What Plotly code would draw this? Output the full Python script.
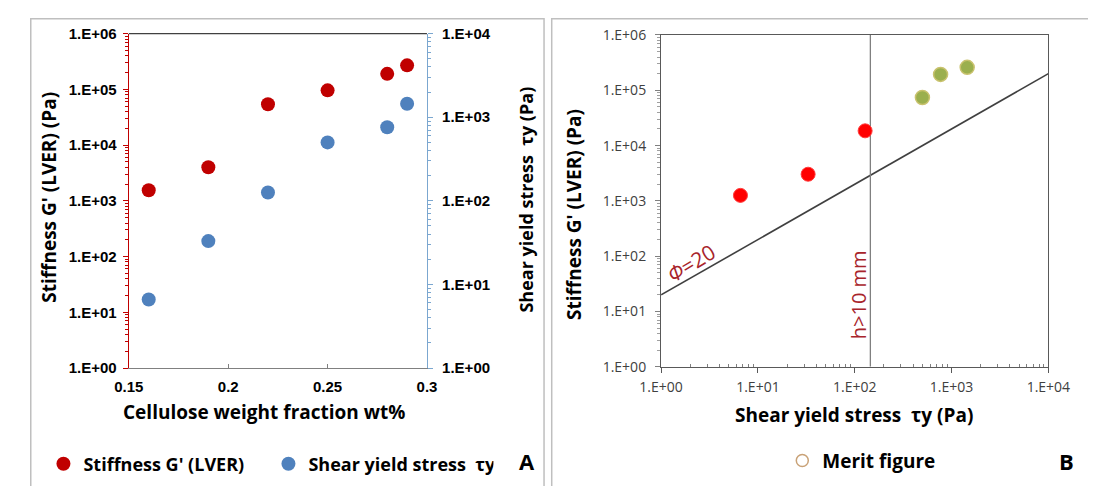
import plotly.graph_objects as go

# The page shows the figure with an 8 px body margin, so the figure is sized to
# the visible area and all layout positions below are given in page pixels.
OFF = 8
W, H = 1096 - OFF, 486 - OFF


def px(x):
    return (x - OFF) / W


def py(y):
    return 1 - (y - OFF) / H


# ---------------- data ----------------
cellulose_wt = [0.16, 0.19, 0.22, 0.25, 0.28, 0.29]
stiffness_pa = [1550, 4000, 54000, 96000, 190000, 270000]
yield_stress_pa = [6.6, 33, 126, 500, 760, 1450]

merit_tau_low = [6.6, 33, 128]
merit_G_low = [1260, 3040, 18500]
merit_tau_high = [500, 770, 1450]
merit_G_high = [74000, 194000, 260000]

phi = 20
phi_line_tau = [1, 10000]
h_limit_tau = 145
h_line_G = [1, 1e6]

x_ticks_a = [0.15, 0.2, 0.25, 0.3]
x_ticktext_a = ["0.15", "0.2", "0.25", "0.3"]
decades6 = [1, 10, 100, 1e3, 1e4, 1e5, 1e6]
decades6_text = ["1.E+00", "1.E+01", "1.E+02", "1.E+03", "1.E+04", "1.E+05", "1.E+06"]
decades4 = [1, 10, 100, 1e3, 1e4]
decades4_text = ["1.E+00", "1.E+01", "1.E+02", "1.E+03", "1.E+04"]
minor6 = [m * 10 ** k for k in range(6) for m in range(2, 10)]
minor4 = [m * 10 ** k for k in range(4) for m in range(2, 10)]

RED_A = "#C00000"
BLUE_A = "#4F81BD"
DARKRED_TXT = "#A8242B"
NB = "\u00a0"
TITLE_FAMILY = "Open Sans"

fig = go.Figure()

# Panel A
fig.add_trace(go.Scatter(
    x=cellulose_wt, y=stiffness_pa, xaxis="x", yaxis="y", mode="markers",
    name="Stiffness G' (LVER)", legend="legend",
    marker=dict(color=RED_A, size=14, line=dict(width=0)),
))
fig.add_trace(go.Scatter(
    x=cellulose_wt, y=yield_stress_pa, xaxis="x", yaxis="y2", mode="markers",
    name="Shear yield stress" + NB + NB + "τy", legend="legend",
    marker=dict(color=BLUE_A, size=14, line=dict(width=0)),
))

# Panel B
fig.add_trace(go.Scatter(
    x=phi_line_tau, y=[phi * t for t in phi_line_tau], xaxis="x2", yaxis="y3",
    mode="lines", line=dict(color="#404040", width=1.6), showlegend=False,
))
fig.add_trace(go.Scatter(
    x=[h_limit_tau, h_limit_tau], y=h_line_G, xaxis="x2", yaxis="y3",
    mode="lines", line=dict(color="#808080", width=1.3), showlegend=False,
))
fig.add_trace(go.Scatter(
    x=merit_tau_low, y=merit_G_low, xaxis="x2", yaxis="y3", mode="markers",
    marker=dict(color="#FF0000", size=14, line=dict(color="#FF3B3B", width=1)),
    showlegend=False,
))
fig.add_trace(go.Scatter(
    x=merit_tau_high, y=merit_G_high, xaxis="x2", yaxis="y3", mode="markers",
    marker=dict(color="#9BAF4E", size=14, line=dict(color="#C9C26E", width=1.5)),
    showlegend=False,
))
fig.add_trace(go.Scatter(
    x=[None], y=[None], xaxis="x2", yaxis="y3", mode="markers",
    name="Merit figure", legend="legend2",
    marker=dict(symbol="circle-open", color="#C9A277", size=12, line=dict(width=1.5)),
))

tick_a_font = dict(family="Liberation Sans", size=15, color="black", weight="bold")
tick_b_font = dict(family="Open Sans", size=14, color="#404040")

fig.update_layout(
    width=W, height=H,
    margin=dict(l=0, r=0, t=0, b=0),
    paper_bgcolor="white", plot_bgcolor="white",
    xaxis=dict(
        domain=[px(111), px(421.7)], anchor="y", range=[0.15, 0.3],
        tickvals=x_ticks_a, ticktext=x_ticktext_a,
        showline=True, linecolor="#808080", linewidth=1.3,
        ticks="inside", ticklen=4, tickcolor="#808080",
        tickfont=tick_a_font, ticklabelstandoff=5,
        showgrid=False, zeroline=False,
    ),
    yaxis=dict(
        domain=[py(372.5), py(24.3)], anchor="x", type="log", range=[0, 6],
        tickvals=decades6, ticktext=decades6_text,
        showline=True, linecolor=RED_A, linewidth=1.3,
        ticks="outside", ticklen=5, tickcolor=RED_A,
        minor=dict(tickvals=minor6, ticks="outside", ticklen=3, tickcolor=RED_A),
        tickfont=tick_a_font, ticklabelstandoff=3,
        showgrid=False, zeroline=False,
    ),
    yaxis2=dict(
        overlaying="y", side="right", anchor="x", type="log", range=[0, 4],
        tickvals=decades4, ticktext=decades4_text,
        showline=True, linecolor="#7BA7D0", linewidth=1.3,
        ticks="outside", ticklen=5, tickcolor="#7BA7D0",
        minor=dict(tickvals=minor4, ticks="outside", ticklen=3, tickcolor="#7BA7D0"),
        tickfont=tick_a_font, ticklabelstandoff=6,
        showgrid=False, zeroline=False,
    ),
    xaxis2=dict(
        domain=[px(665.7), px(1069.3)], anchor="y3", type="log", range=[0, 4],
        tickvals=decades4, ticktext=decades4_text,
        showline=True, mirror=True, linecolor="#595959", linewidth=1.3,
        ticks="outside", ticklen=5, tickcolor="#595959",
        minor=dict(tickvals=minor4, ticks="inside", ticklen=3, tickcolor="#808080"),
        tickfont=tick_b_font, ticklabelstandoff=2,
        showgrid=False, zeroline=False,
    ),
    yaxis3=dict(
        domain=[py(371.3), py(25.7)], anchor="x2", type="log", range=[0, 6],
        tickvals=decades6, ticktext=decades6_text,
        showline=True, mirror=True, linecolor="#595959", linewidth=1.3,
        ticks="outside", ticklen=5, tickcolor="#808080",
        minor=dict(tickvals=minor6, ticks="outside", ticklen=3, tickcolor="#A0A0A0"),
        tickfont=tick_b_font, ticklabelstandoff=6,
        showgrid=False, zeroline=False,
    ),
    legend=dict(
        orientation="h", x=px(22), y=py(472.5), xanchor="left", yanchor="middle",
        font=dict(family=TITLE_FAMILY, size=18, color="black", weight="bold"),
        bgcolor="rgba(0,0,0,0)", entrywidth=180, entrywidthmode="pixels",
        itemclick=False, itemdoubleclick=False,
    ),
    legend2=dict(
        orientation="h", x=px(792), y=py(469), xanchor="left", yanchor="middle",
        font=dict(family=TITLE_FAMILY, size=19, color="black", weight="bold"),
        bgcolor="rgba(0,0,0,0)",
        itemclick=False, itemdoubleclick=False,
    ),
    showlegend=True,
)

# panel frames and top border of panel A
shapes = [
    dict(type="rect", xref="paper", yref="paper", x0=px(8.8), x1=px(543.7),
         y0=py(520), y1=py(8.8), line=dict(color="#BFBFBF", width=1.5)),
    dict(type="rect", xref="paper", yref="paper", x0=px(551.7), x1=px(1130),
         y0=py(520), y1=py(8.8), line=dict(color="#BFBFBF", width=1.5)),
    dict(type="line", xref="x domain", yref="y domain", x0=0, x1=1, y0=1, y1=1,
         line=dict(color="#404040", width=1.3)),
]
fig.update_layout(shapes=shapes)

title_font = dict(family=TITLE_FAMILY, size=19, color="black", weight="bold")
ann = [
    dict(text="Cellulose weight fraction wt%", x=px(252), y=py(418)),
    dict(text="Stiffness G' (LVER) (Pa)", x=px(27), y=py(195), textangle=-90),
    dict(text="Shear yield stress" + NB + NB + "τy (Pa)", x=px(525), y=py(197), textangle=-90,
         font=dict(family=TITLE_FAMILY, size=18, color="black", weight="bold")),
    dict(text="Shear yield stress" + NB + NB + "τy (Pa)", x=px(867), y=py(421)),
    dict(text="Stiffness G' (LVER) (Pa)", x=px(575), y=py(213), textangle=-90),
    dict(text="A", x=px(526), y=py(469), font=dict(family=TITLE_FAMILY, size=22, color="black", weight="bold")),
    dict(text="B", x=px(1088), y=py(469), font=dict(family=TITLE_FAMILY, size=22, color="black", weight="bold")),
    dict(text="<i>Φ</i>=20", x=px(697), y=py(263), textangle=-31,
         font=dict(family=TITLE_FAMILY, size=21, color=DARKRED_TXT)),
    dict(text="h>10 mm", x=px(871), y=py(296.6), textangle=-90,
         font=dict(family=TITLE_FAMILY, size=20, color=DARKRED_TXT)),
]
for a in ann:
    a.setdefault("font", title_font)
    a.update(xref="paper", yref="paper", showarrow=False, xanchor="center", yanchor="middle")
fig.update_layout(annotations=ann)

fig.write_html("out.html")
